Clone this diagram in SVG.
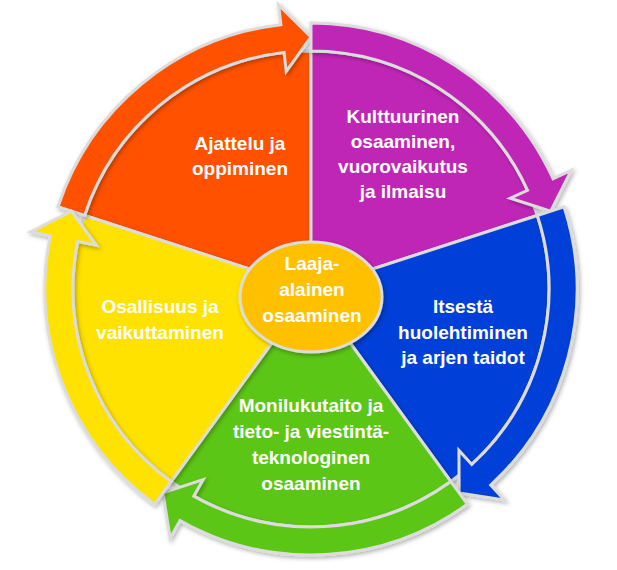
<svg xmlns="http://www.w3.org/2000/svg" width="617" height="570" viewBox="0 0 617 570">
<defs>
<filter id="sh" x="-10%" y="-10%" width="120%" height="120%">
<feDropShadow dx="1.5" dy="2" stdDeviation="2" flood-color="#000" flood-opacity="0.3"/>
</filter>
</defs>
<style>
.s{stroke:#DCDCDC;stroke-width:3;stroke-linejoin:miter;filter:url(#sh)}
.o{fill:#FF5100}.p{fill:#C026B6}.b{fill:#0041D8}.g{fill:#5CC616}.y{fill:#FFE200}.c{fill:#FFC000}
text{font-family:"Liberation Sans",Arial,sans-serif;font-weight:bold;font-size:19px;fill:#FFFFFF;text-anchor:middle}
</style>
<rect width="617" height="570" fill="#FFFFFF"/>
<g id="wedges" transform="translate(311,289)">
<g id="node-ajattelu"><path class="s o" d="M0,0 L-226.35,-73.55 A238,238 0 0 1 0,-238 Z"/></g>
<g id="node-kulttuurinen"><path class="s p" d="M0,0 L0,-238 A238,238 0 0 1 226.35,-73.55 Z"/></g>
<g id="node-itsesta"><path class="s b" d="M0,0 L226.35,-73.55 A238,238 0 0 1 139.89,192.55 Z"/></g>
<g id="node-monilukutaito"><path class="s g" d="M0,0 L139.89,192.55 A238,238 0 0 1 -139.89,192.55 Z"/></g>
<g id="node-osallisuus"><path class="s y" d="M0,0 L-139.89,192.55 A238,238 0 0 1 -226.35,-73.55 Z"/></g>
</g>
<g id="connectors" transform="translate(311,289)">
<path class="s o" d="M-252.98,-82.20 A266,266 0 0 1 -30.11,-264.29 L-32.38,-284.16 L0,-252 L-24.79,-217.59 L-26.94,-236.47 A238,238 0 0 0 -226.35,-73.55 Z"/>
<path class="s p" d="M0,-266 A266,266 0 0 1 242.05,-110.31 L260.25,-118.60 L239.67,-77.87 L199.28,-90.82 L216.57,-98.70 A238,238 0 0 0 0,-238 Z"/>
<path class="s b" d="M252.98,-82.20 A266,266 0 0 1 179.71,196.12 L193.22,210.86 L148.12,203.87 L147.95,161.46 L160.79,175.47 A238,238 0 0 0 226.35,-73.55 Z"/>
<path class="s g" d="M156.35,215.20 A266,266 0 0 1 -130.98,231.52 L-140.83,248.92 L-148.12,203.87 L-107.84,190.61 L-117.20,207.15 A238,238 0 0 0 139.89,192.55 Z"/>
<path class="s y" d="M-156.35,215.20 A266,266 0 0 1 -260.66,-53.03 L-280.26,-57.02 L-239.67,-77.87 L-214.60,-43.66 L-233.22,-47.45 A238,238 0 0 0 -139.89,192.55 Z"/>
</g>
<g id="labels">
<text x="240" y="150">Ajattelu ja</text>
<text x="240" y="175">oppiminen</text>
<text x="403" y="123">Kulttuurinen</text>
<text x="403" y="148">osaaminen,</text>
<text x="403" y="173">vuorovaikutus</text>
<text x="403" y="198">ja ilmaisu</text>
<text x="463" y="313">Itsestä</text>
<text x="463" y="338.5">huolehtiminen</text>
<text x="463" y="364">ja arjen taidot</text>
<text x="311" y="412">Monilukutaito ja</text>
<text x="311" y="438">tieto- ja viestintä-</text>
<text x="311" y="464">teknologinen</text>
<text x="311" y="490">osaaminen</text>
<text x="160" y="313">Osallisuus ja</text>
<text x="160" y="339">vaikuttaminen</text>
</g>
<g id="node-center">
<ellipse class="s c" cx="311" cy="297" rx="71" ry="55"/>
<text x="312" y="270">Laaja-</text>
<text x="312" y="296">alainen</text>
<text x="312" y="322">osaaminen</text>
</g>
</svg>
